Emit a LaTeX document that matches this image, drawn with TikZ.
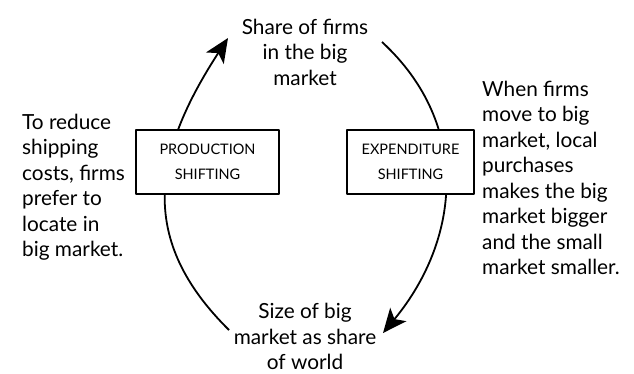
\documentclass[tikz,border=0pt]{standalone}
\usepackage{fontspec}
\setmainfont{Lato}
\usetikzlibrary{arrows.meta}
\begin{document}
\begin{tikzpicture}[x=1pt,y=-1pt,line join=round,>={Stealth[length=24pt,width=21pt,inset=6pt]},
		note/.style={inner sep=0pt,font=\fontsize{20.8}{25.5}\selectfont},
		shiftbox/.style={draw,line width=1.2pt,fill=white,minimum height=64pt,inner sep=0pt,align=center,font=\fontsize{14.5}{25}\selectfont}]
			\useasboundingbox (0,0) rectangle (634,373);
			% arc end points
			\coordinate (lstart) at (229,330); \coordinate (lend) at (228,38);
			\coordinate (rstart) at (382,42); \coordinate (rend) at (383,333);
			\draw[line width=1.8pt,->] (lstart) .. controls (138,240) and (152,155) .. (lend);
			\draw[line width=1.8pt,->] (rstart) .. controls (472,125) and (460,240) .. (rend);
			% texts
			\node[note,align=center] (share) at (305,52) {Share of firms\\in the big\\market};
			\node[note,align=center] (size) at (305,336.5) {Size of big\\market as share\\of world};
			\node[note,align=left,anchor=west] (reduce) at (22,187) {To reduce\\shipping\\costs, firms\\prefer to\\locate in\\big market.};
			\node[note,align=left,anchor=west] (move) at (482,178) {When firms\\move to big\\market, local\\purchases\\makes the big\\market bigger\\and the small\\market smaller.};
			% boxes
			\node[shiftbox,minimum width=143pt] (prod) at (207.5,162) {PRODUCTION\\SHIFTING};
			\node[shiftbox,minimum width=127pt] (expend) at (410.5,162) {EXPENDITURE\\SHIFTING};
		\end{tikzpicture}
\end{document}
